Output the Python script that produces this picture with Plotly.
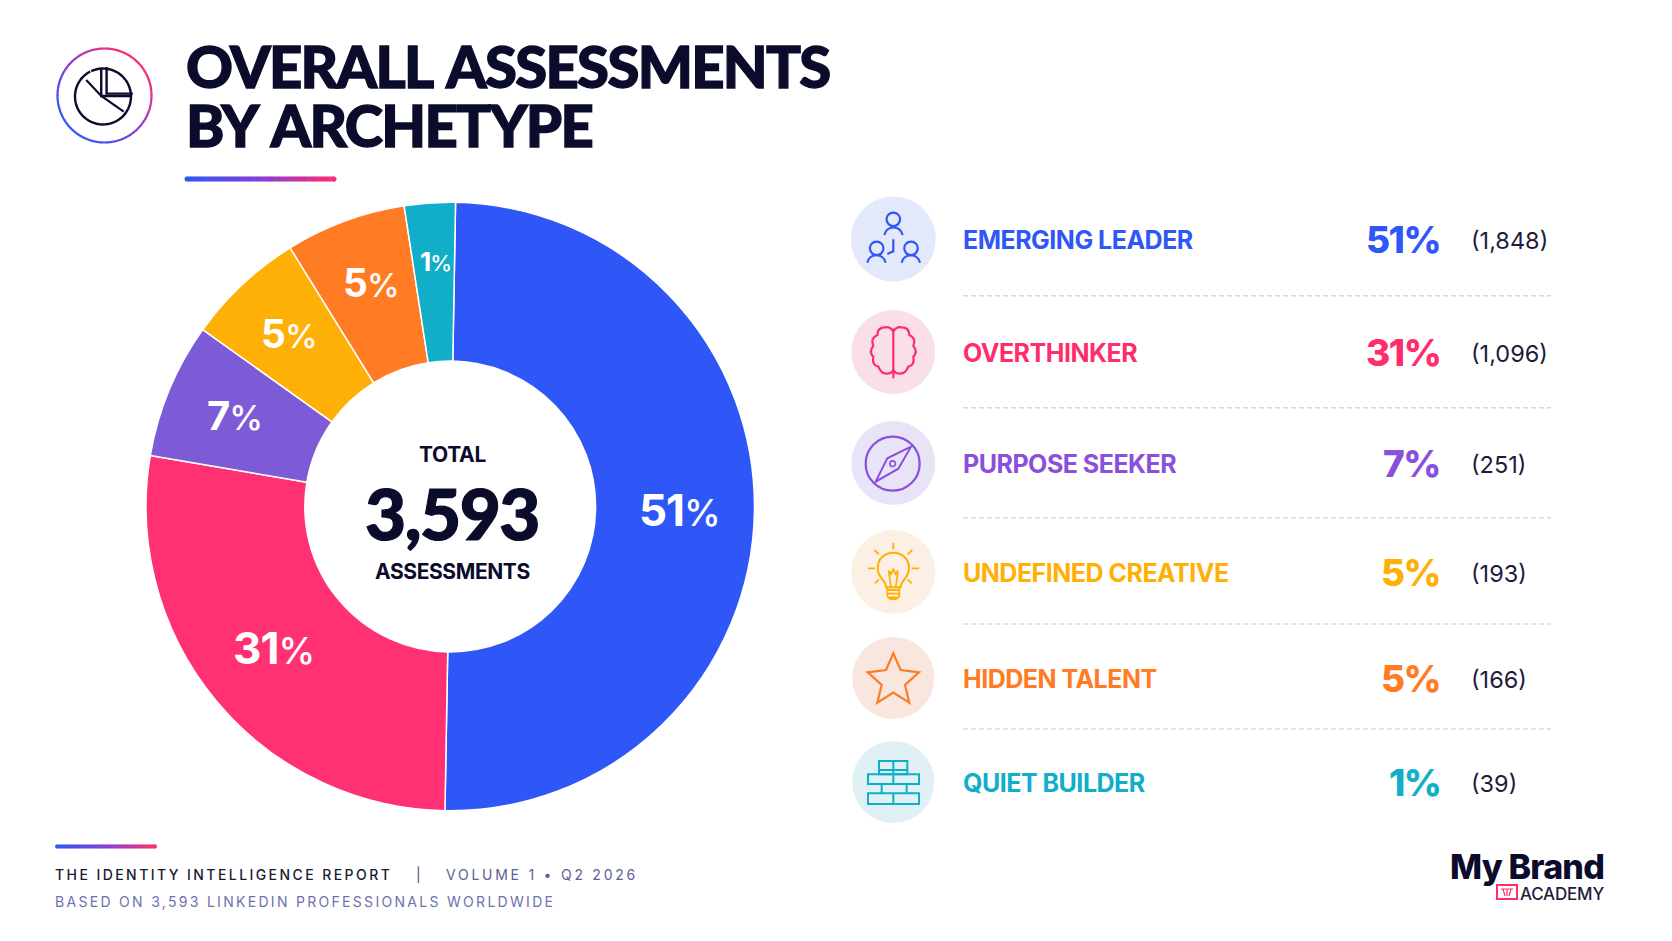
import math
import re
import plotly.graph_objects as go

# data
archetypes = ["EMERGING LEADER", "OVERTHINKER", "PURPOSE SEEKER", "UNDEFINED CREATIVE", "HIDDEN TALENT", "QUIET BUILDER"]
percent_labels = [51, 31, 7, 5, 5, 1]
counts = [1848, 1096, 251, 193, 166, 39]
# the slices as drawn are not quite the printed percentages, so these are measured from the ring
slice_shares = [50.0, 27.4, 7.2, 6.3, 6.4, 2.7]
total = 3593

colors = ["#2F57F7", "#FF3172", "#7E5BD6", "#FFB007", "#FF7B24", "#10AEC8"]
text_colors = ["#2F57F7", "#FF2D6B", "#8A4FDB", "#FFB007", "#FF7B24", "#10AEC8"]
icon_backgrounds = ["#E3E8FA", "#F9E0E8", "#E8E3F7", "#FBF0E3", "#F9E6DE", "#E0F1F6"]

W, H = 1672, 941
INK = "#0B0B2B"
FONT = "Inter"
HEAVY = "Lato"
BLUE, PURPLE, PINK = (47, 87, 247), (140, 60, 215), (255, 45, 110)

shapes = []
annotations = []


def label(x, y, text, size, color=INK, weight=700, anchor="left", spacing=None, font=FONT):
    if spacing is not None:
        text = f'<span style="letter-spacing:{spacing}px">{text}</span>'
    annotations.append(dict(
        x=x, y=y, xref="x", yref="y", text=text, showarrow=False,
        xanchor=anchor, yanchor="middle", align=anchor,
        font=dict(family=font, size=size, color=color, weight=weight),
    ))


def gradient_color(t):
    # blue -> purple -> pink
    if t < 0.5:
        a, b, u = BLUE, PURPLE, t * 2
    else:
        a, b, u = PURPLE, PINK, t * 2 - 1
    return "rgb(%d,%d,%d)" % tuple(a[i] + (b[i] - a[i]) * u for i in range(3))


def gradient_bar(x0, x1, y, thick):
    steps = 40
    r = thick / 2
    shapes.append(dict(type="circle", x0=x0 - r, x1=x0 + r, y0=y - r, y1=y + r, fillcolor=gradient_color(0), line_width=0))
    shapes.append(dict(type="circle", x0=x1 - r, x1=x1 + r, y0=y - r, y1=y + r, fillcolor=gradient_color(1), line_width=0))
    for i in range(steps):
        a = x0 + (x1 - x0) * i / steps
        b = x0 + (x1 - x0) * (i + 1) / steps + 0.5
        shapes.append(dict(type="rect", x0=a, x1=b, y0=y - r, y1=y + r, fillcolor=gradient_color(i / steps), line_width=0))


def stroke(d, color, width=2.0):
    shapes.append(dict(type="path", path=d, line=dict(color=color, width=width)))


def crop_path(d, ox, oy, sx=3.0, sy=3.0):
    # icon outlines were traced on zoomed crops, turn crop coords into page pixels
    def conv(m):
        return "%.2f,%.2f" % (ox + float(m.group(1)) / sx, oy + float(m.group(2)) / sy)
    return re.sub(r"(-?[\d.]+),(-?[\d.]+)", conv, d)


def arc(cx, cy, r, a0, a1, n=40):
    # degrees, 0 at 3 o'clock, y down
    pts = []
    for i in range(n + 1):
        a = math.radians(a0 + (a1 - a0) * i / n)
        pts.append("%.2f,%.2f" % (cx + r * math.cos(a), cy + r * math.sin(a)))
    return "M" + " L".join(pts)


def ring(cx, cy, r, color, width=2.0):
    shapes.append(dict(type="circle", x0=cx - r, x1=cx + r, y0=cy - r, y1=cy + r, line=dict(color=color, width=width)))


def disc(cx, cy, r, color):
    shapes.append(dict(type="circle", x0=cx - r, x1=cx + r, y0=cy - r, y1=cy + r, fillcolor=color, line_width=0))


# header badge, ring goes blue at lower left to pink at upper right
bx, by, br = 104.5, 95.5, 47
for i in range(90):
    a0, a1 = i * 4, (i + 1) * 4 + 0.5
    mid = math.radians(a0 + 2)
    t = 0.5 + 0.5 * (math.cos(mid) - math.sin(mid)) / math.sqrt(2)
    stroke(arc(bx, by, br, a0, a1, 4), gradient_color(t), 2.2)
ox, oy = 30, 20
sx, sy = 1.867, 3.0
stroke(arc(103, 96.5, 28, -115, 180, 50) + " " + arc(103, 96.5, 28, 180, 243, 20), INK, 2.4)
stroke(crop_path("M133,148 L133,228 L190,228", ox, oy, sx, sy), INK, 2.4)
stroke(crop_path("M143,141 L143,221 L192,221", ox, oy, sx, sy), INK, 2.4)
stroke(crop_path("M105,180 L133,228 L175,275", ox, oy, sx, sy), INK, 2.2)

# small base size sets the tight line gap, the spans carry the real size
title_style = f"font-size:58px;letter-spacing:-1.7px;word-spacing:5px;stroke:{INK};stroke-width:1.3px"
label(184, 94.5,
      f'<span style="{title_style}">OVERALL ASSESSMENTS</span><br><span style="{title_style}">BY ARCHETYPE</span>',
      45.4, weight=900, font=HEAVY)
gradient_bar(187, 334, 179, 5)

# centre of the ring
label(452, 454, "TOTAL", 21, weight=700, anchor="center", spacing=-0.3)
label(452, 512, f'<span style="letter-spacing:-1.5px;stroke:{INK};stroke-width:1.2px">{total:,}</span>',
      71, weight=900, anchor="center", font=HEAVY)
label(452, 571, "ASSESSMENTS", 21, weight=700, anchor="center", spacing=-0.4)

# percent labels sitting on the slices
slice_label_pos = [(679, 510), (273, 648), (234, 415), (289, 333), (371, 282), (435, 261)]
slice_label_size = [44, 44, 40, 39, 39, 26]
for pct, (lx, ly), sz in zip(percent_labels, slice_label_pos, slice_label_size):
    txt = f'<span style="font-weight:700">{pct}</span><span style="font-weight:500;font-size:{sz * 0.84:.0f}px">%</span>'
    label(lx, ly, txt, sz, color="white", anchor="center", spacing=-1)

# right hand table
row_y = [239, 352, 463, 572, 678, 782]
row_r = [42.5, 42, 42, 42, 41, 41]
sep_y = [295.7, 407.7, 517.7, 624, 729]
for i, name in enumerate(archetypes):
    disc(893.3, row_y[i], row_r[i], icon_backgrounds[i])
    label(961, row_y[i] + 1, name, 25, color=text_colors[i], weight=700, spacing=-0.5)
    label(1442, row_y[i], f"{percent_labels[i]}%", 37, color=text_colors[i], weight=800, anchor="right", spacing=-1.5)
    label(1469, row_y[i] + 1, f"({counts[i]:,})", 23.5, color="#1C1C3C", weight=400)
for y in sep_y:
    shapes.append(dict(type="line", x0=963, x1=1551, y0=y, y1=y, line=dict(color="#D6D6EA", width=1.5, dash="5px,3px")))

# leader icon
c = text_colors[0]
ox, oy = 830, 180
ring(830 + 190 / 3, 180 + 118 / 3, 6.8, c, 2.2)
ring(830 + 140 / 3, 180 + 205 / 3, 6.8, c, 2.2)
ring(830 + 243 / 3, 180 + 205 / 3, 6.8, c, 2.2)
stroke(crop_path("M163,165 C170,135 210,135 218,165", ox, oy), c, 2.2)
stroke(crop_path("M112,248 C118,218 160,218 167,248", ox, oy), c, 2.2)
stroke(crop_path("M215,248 C222,218 263,218 270,248", ox, oy), c, 2.2)
stroke(crop_path("M190,178 L190,214 L172,222", ox, oy), c, 2.2)

# brain icon
c = text_colors[1]
stroke(crop_path("M190,445 L190,595", ox, oy), c, 2.2)
stroke(crop_path("M190,455 Q200,438 215,442 Q238,442 238,465 Q260,475 250,498 Q265,515 250,530 Q255,555 235,560 Q225,585 205,580 Q195,580 190,570", ox, oy), c, 2.2)
stroke(crop_path("M190,455 Q180,438 165,442 Q142,442 142,465 Q120,475 130,498 Q115,515 130,530 Q125,555 145,560 Q155,585 175,580 Q185,580 190,570", ox, oy), c, 2.2)

# compass icon
c = text_colors[2]
ring(830 + 188 / 3, 180 + 851 / 3, 27, c, 2.2)
stroke(crop_path("M243,800 L172,835 L137,905 L205,866 Z", ox, oy), c, 2.0)
ring(830 + 188 / 3, 180 + 851 / 3, 2.8, c, 1.6)

# bulb icon
c = text_colors[3]
ox, oy = 830, 510
stroke(crop_path("M168,232 C168,210 143,205 143,175 C143,145 165,128 190,128 C215,128 237,145 237,175 C237,205 212,210 212,232 Z", ox, oy), c, 2.0)
stroke(crop_path("M170,240 L210,240 M170,251 L210,251 M178,262 L202,262 M172,232 L172,258 Q176,268 190,268 Q204,268 208,258 L208,232", ox, oy), c, 1.8)
stroke(crop_path("M183,232 L176,182 L183,192 L190,178 L197,192 L204,182 L197,232", ox, oy), c, 1.8)
stroke(crop_path("M190,98 L190,118 M133,120 L147,133 M247,120 L233,133 M113,175 L135,175 M245,175 L267,175 M135,220 L147,208 M245,220 L233,208", ox, oy), c, 1.8)

# star icon
c = text_colors[4]
stroke(crop_path("M190,430 L212,480 L267,487 L225,525 L238,578 L190,548 L142,578 L155,525 L113,487 L168,480 Z", ox, oy), c, 2.2)

# brick icon
c = text_colors[5]
stroke(crop_path("M147,753 L232,753 L232,793 L147,793 Z M190,753 L190,793 M147,780 L232,780", ox, oy), c, 2.0)
stroke(crop_path("M114,793 L267,793 L267,822 L114,822 Z M190,793 L190,822", ox, oy), c, 2.0)
stroke(crop_path("M155,822 L155,850 M230,822 L230,850", ox, oy), c, 2.0)
stroke(crop_path("M114,850 L267,850 L267,882 L114,882 Z M190,850 L190,882", ox, oy), c, 2.0)

# footer
gradient_bar(57, 155, 846.5, 4)
label(53, 874, "THE IDENTITY INTELLIGENCE REPORT", 14, color="#1A1A33", weight=500, spacing=2.43)
label(418, 874, "|", 14, color="#4A4F78", weight=400, anchor="center")
label(444, 874, "VOLUME 1 • Q2 2026", 14, color="#5B6294", weight=400, spacing=2.75)
label(53, 901, "BASED ON 3,593 LINKEDIN PROFESSIONALS WORLDWIDE", 14, color="#6C72AE", weight=400, spacing=2.3)

# logo, two lines in one label so the gap stays tight
label(1606, 874.5,
      '<span style="font-size:34px;font-weight:800;letter-spacing:-0.8px">My Brand</span><br>'
      '<span style="font-size:17px;font-weight:500;letter-spacing:-0.2px;fill:#1E1E3C">ACADEMY</span>',
      16.2, anchor="right", weight=800)
shapes.append(dict(type="rect", x0=1497, x1=1517, y0=885, y1=899, line=dict(color="#FF2D6B", width=2)))
stroke("M1501,889 L1513,889 M1503,889 L1505,896 M1507,889 L1507,896 M1511,889 L1509,896", "#FF2D6B", 1.2)

fig = go.Figure()
# invisible, only here so the pixel axes exist for the shapes and labels
fig.add_trace(go.Scatter(x=[0, W], y=[0, H], mode="markers", marker_opacity=0, hoverinfo="skip", showlegend=False))
fig.add_trace(go.Pie(
    labels=archetypes,
    values=slice_shares,
    hole=0.478,
    sort=False,
    direction="clockwise",
    rotation=1,
    marker=dict(colors=colors, line=dict(color="white", width=1.5)),
    textinfo="none",
    hoverinfo="label",
    showlegend=False,
    domain=dict(x=[146 / W, 754.5 / W], y=[1 - 811 / H, 1 - 202 / H]),
))

fig.update_layout(
    width=W,
    height=H,
    margin=dict(l=0, r=0, t=0, b=0),
    paper_bgcolor="white",
    plot_bgcolor="white",
    xaxis=dict(visible=False, range=[0, W], domain=[0, 1], fixedrange=True),
    yaxis=dict(visible=False, range=[H, 0], domain=[0, 1], fixedrange=True),
    shapes=shapes,
    annotations=annotations,
)

fig.write_html(
    "out.html",
    config={"displayModeBar": False},
    post_script="document.body.style.margin='0';document.body.style.overflow='hidden';",
)
